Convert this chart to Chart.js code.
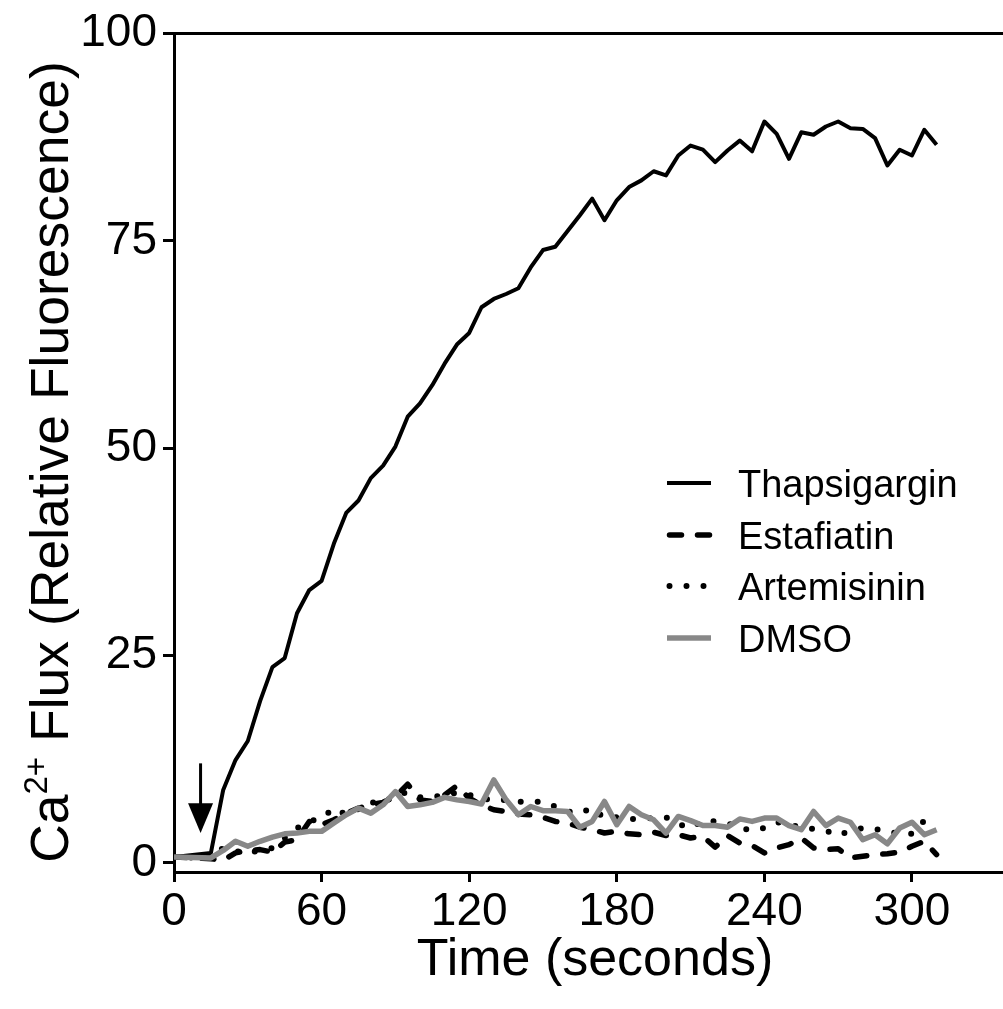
<!DOCTYPE html>
<html>
<head>
<meta charset="utf-8">
<title>Ca2+ flux</title>
<script src="https://cdn.jsdelivr.net/npm/chart.js@4.4.1/dist/chart.umd.min.js"></script>
<style>
  body { margin: 0; background: #fff; }
  canvas { display: block; }
</style>
</head>
<body>
<canvas id="chart" width="1003" height="1009"></canvas>
<script>
// time points (seconds)
var times = [0, 15, 20, 25, 30, 35, 40, 45, 50, 55, 60,
    65, 70, 75, 80, 85, 90, 95, 100, 105, 110,
    115, 120, 125, 130, 135, 140, 145, 150, 155, 160,
    165, 170, 175, 180, 185, 190, 195, 200, 205, 210,
    215, 220, 225, 230, 235, 240, 245, 250, 255, 260,
    265, 270, 275, 280, 285, 290, 295, 300, 305, 310];

var thapsigargin = [0.7, 1.2, 8.8, 12.4, 14.7, 19.5, 23.6, 24.7, 30.1, 32.9, 34.0,
    38.5, 42.2, 43.7, 46.4, 47.9, 50.2, 53.8, 55.4, 57.6, 60.2,
    62.5, 63.9, 67.0, 68.0, 68.6, 69.3, 71.8, 73.9, 74.3, 76.2,
    78.1, 80.1, 77.5, 79.9, 81.5, 82.3, 83.4, 82.9, 85.3, 86.5,
    86.0, 84.5, 85.9, 87.1, 85.8, 89.4, 87.9, 84.9, 88.1, 87.8,
    88.8, 89.4, 88.6, 88.5, 87.4, 84.1, 86.0, 85.3, 88.4, 86.6];

var estafiatin = [0.7, 0.5, 0.3, 1.2, 1.5, 1.6, 1.3, 2.5, 2.8, 5.0, 4.6,
    5.2, 6.0, 6.6, 7.0, 7.3, 8.0, 9.5, 7.6, 7.4, 8.2,
    9.3, 7.8, 7.0, 6.4, 6.2, 5.9, 5.8, 5.5, 5.0, 4.8,
    4.3, 4.0, 3.6, 3.8, 3.5, 3.4, 3.7, 3.3, 3.4, 3.0,
    3.2, 1.9, 3.3, 2.4, 2.1, 1.2, 1.8, 2.2, 3.0, 1.8,
    1.6, 1.7, 0.6, 0.8, 1.0, 1.1, 1.3, 2.0, 2.6, 1.0];

var artemisinin = [0.7, 0.6, 1.8, 1.4, 1.2, 1.5, 1.8, 3.0, 4.2, 5.0, 5.4,
    6.6, 5.8, 6.5, 7.3, 7.2, 8.2, 8.5, 7.9, 8.0, 8.1,
    8.5, 8.2, 7.8, 7.5, 7.6, 7.4, 7.3, 7.4, 6.8, 6.2,
    6.0, 6.6, 5.4, 5.5, 5.3, 5.3, 5.4, 5.5, 4.7, 4.2,
    5.1, 5.0, 4.8, 4.2, 3.9, 4.2, 4.9, 4.6, 4.3, 4.1,
    3.9, 3.3, 3.9, 4.2, 4.1, 3.7, 3.6, 3.5, 5.1, 4.4];

var dmso = [0.7, 0.6, 1.5, 2.6, 2.0, 2.6, 3.1, 3.5, 3.6, 3.8, 3.8,
    4.8, 5.8, 6.6, 6.0, 7.0, 8.6, 6.8, 7.0, 7.3, 7.9,
    7.6, 7.4, 7.1, 10.0, 7.6, 5.8, 6.8, 6.3, 6.3, 6.2,
    4.3, 5.0, 7.4, 4.6, 6.8, 5.8, 5.2, 3.6, 5.6, 5.1,
    4.5, 4.5, 4.3, 5.3, 5.0, 5.4, 5.4, 4.5, 4.0, 6.2,
    4.5, 5.4, 4.9, 2.8, 3.4, 2.3, 4.2, 4.9, 3.4, 4.0];

var seriesNames = ['Thapsigargin', 'Estafiatin', 'Artemisinin', 'DMSO'];
var xTicks = [0, 60, 120, 180, 240, 300];
var yTicks = [0, 25, 50, 75, 100];
var xTitle = 'Time (seconds)';
var yTitle = ['Ca', '2+', ' Flux (Relative Fluorescence)'];
var addedAt = 10.8; // arrow marks compound addition

var FONT = '"Liberation Sans", Arial, Helvetica, sans-serif';

function points(values) {
    return times.map(function(t, i) { return { x: t, y: values[i] }; });
}

// arrow, legend and axis titles
var decorations = {
    id: 'decorations',
    afterDatasetsDraw: function(chart) {
        var ctx = chart.ctx;
        var x = chart.scales.x.getPixelForValue(addedAt);
        var y = chart.scales.y;
        var top = y.getPixelForValue(12.0);
        var base = y.getPixelForValue(7.2);
        var tip = y.getPixelForValue(3.6);
        ctx.save();
        ctx.strokeStyle = '#000';
        ctx.fillStyle = '#000';
        ctx.lineWidth = 3;
        ctx.beginPath();
        ctx.moveTo(x, top);
        ctx.lineTo(x, base + 1);
        ctx.stroke();
        ctx.beginPath();
        ctx.moveTo(x - 12.5, base);
        ctx.lineTo(x + 12.5, base);
        ctx.lineTo(x, tip);
        ctx.closePath();
        ctx.fill();
        ctx.restore();
    },
    afterDraw: function(chart) {
        var ctx = chart.ctx;
        ctx.save();

        // legend inside the plot
        var rows = [483, 535, 586, 638];
        chart.data.datasets.forEach(function(ds, i) {
            ctx.save();
            ctx.strokeStyle = ds.borderColor;
            ctx.lineWidth = ds.borderWidth;
            ctx.lineCap = ds.borderCapStyle || 'butt';
            ctx.setLineDash(ds.borderDash || []);
            ctx.beginPath();
            var x0 = ds.borderCapStyle === 'round' ? 669.5 : 667;
            ctx.moveTo(x0, rows[i]);
            ctx.lineTo(711, rows[i]);
            ctx.stroke();
            ctx.restore();
            ctx.fillStyle = '#000';
            ctx.font = '38px ' + FONT;
            ctx.textBaseline = 'alphabetic';
            ctx.textAlign = 'left';
            ctx.fillText(ds.label, 738, rows[i] + 13.5);
        });

        // x title
        ctx.fillStyle = '#000';
        ctx.font = '52px ' + FONT;
        ctx.textAlign = 'center';
        ctx.textBaseline = 'alphabetic';
        ctx.fillText(xTitle, 595, 975);

        // y title with superscript
        var big = '53.5px ' + FONT;
        var small = '33px ' + FONT;
        ctx.font = big;
        var w0 = ctx.measureText(yTitle[0]).width;
        var w2 = ctx.measureText(yTitle[2]).width;
        ctx.font = small;
        var w1 = ctx.measureText(yTitle[1]).width;
        var total = w0 + w1 + w2;
        ctx.translate(68, 462);
        ctx.rotate(-Math.PI / 2);
        ctx.textAlign = 'left';
        var sx = -total / 2;
        ctx.font = big;
        ctx.fillText(yTitle[0], sx, 0);
        ctx.font = small;
        ctx.fillText(yTitle[1], sx + w0, -21);
        ctx.font = big;
        ctx.fillText(yTitle[2], sx + w0 + w1, 0);
        ctx.restore();
    }
};

var ctx = document.getElementById('chart').getContext('2d');
var chart = new Chart(ctx, {
    type: 'line',
    data: {
        datasets: [
            {
                label: seriesNames[0],
                data: points(thapsigargin),
                borderColor: '#000',
                borderWidth: 4,
                order: 3
            },
            {
                label: seriesNames[1],
                data: points(estafiatin),
                borderColor: '#000',
                borderWidth: 5.5,
                borderDash: [12, 16],
                borderCapStyle: 'round',
                order: 1
            },
            {
                label: seriesNames[2],
                data: points(artemisinin),
                borderColor: '#000',
                borderWidth: 6,
                borderDash: [0, 17],
                borderCapStyle: 'round',
                order: 2
            },
            {
                label: seriesNames[3],
                data: points(dmso),
                borderColor: '#888888',
                borderWidth: 5.5,
                order: 0
            }
        ]
    },
    options: {
        responsive: false,
        animation: false,
        events: [],
        layout: { padding: { top: 33, right: 0, left: 0, bottom: 0 } },
        elements: {
            point: { radius: 0 },
            line: { tension: 0, fill: false, borderJoinStyle: 'round' }
        },
        plugins: {
            legend: { display: false },
            tooltip: { enabled: false }
        },
        scales: {
            x: {
                type: 'linear',
                min: 0,
                max: 337,
                afterBuildTicks: function(scale) {
                    scale.ticks = xTicks.map(function(v) { return { value: v }; });
                },
                afterFit: function(scale) { scale.height = 137; },
                border: { display: true, color: '#000', width: 3 },
                grid: {
                    drawOnChartArea: false,
                    drawTicks: true,
                    tickLength: 10,
                    tickWidth: 3,
                    tickColor: '#000',
                    lineWidth: 3
                },
                ticks: {
                    color: '#000',
                    font: { family: FONT, size: 46 },
                    padding: 3,
                    maxRotation: 0,
                    autoSkip: false
                }
            },
            y: {
                min: -1.1,
                max: 100,
                afterBuildTicks: function(scale) {
                    scale.ticks = yTicks.map(function(v) { return { value: v }; });
                },
                afterFit: function(scale) { scale.width = 174; },
                border: { display: true, color: '#000', width: 3 },
                grid: {
                    drawOnChartArea: true,
                    drawTicks: true,
                    tickLength: 11,
                    tickWidth: 3,
                    tickColor: '#000',
                    lineWidth: 3,
                    color: function(c) {
                        return c.tick && c.tick.value === 100 ? '#000' : 'rgba(0,0,0,0)';
                    }
                },
                ticks: {
                    color: '#000',
                    font: { family: FONT, size: 46 },
                    padding: 6
                }
            }
        }
    },
    plugins: [decorations]
});
</script>
</body>
</html>
